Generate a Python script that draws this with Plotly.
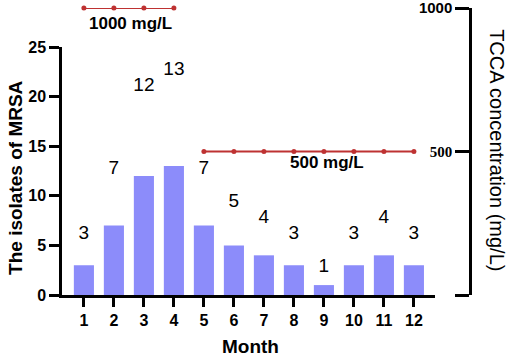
import plotly.graph_objects as go

months = [1, 2, 3, 4, 5, 6, 7, 8, 9, 10, 11, 12]
isolates = [3, 7, 12, 13, 7, 5, 4, 3, 1, 3, 4, 3]
month_ticks = [str(m) for m in months]

tcca_high_months = [1, 2, 3, 4]
tcca_high = [1000, 1000, 1000, 1000]
tcca_low_months = [5, 6, 7, 8, 9, 10, 11, 12]
tcca_low = [500, 500, 500, 500, 500, 500, 500, 500]

left_ticks = [0, 5, 10, 15, 20, 25]
right_ticks = [0, 500, 1000]
right_ticktext = ["", '<span style="font-family:Liberation Serif">500</span>',
                  '<span style="font-family:Liberation Sans">1000</span>']

BAR = "rgb(140,140,250)"
RED = "rgb(190,50,50)"
AX = dict(showline=True, linecolor="black", linewidth=2.5, ticks="outside", automargin=False,
          tickcolor="black", tickwidth=2.5, showgrid=False, zeroline=False)

fig = go.Figure()
fig.add_trace(go.Bar(x=months, y=isolates, width=0.67, marker=dict(color=BAR, line=dict(width=0)),
                     xaxis="x", yaxis="y", showlegend=False))
fig.add_trace(go.Scatter(x=months, y=isolates, text=[str(v) for v in isolates], mode="text",
                         textposition="middle center", textfont=dict(family="Arial", size=19, color="black"),
                         xaxis="x", yaxis="y3", showlegend=False, cliponaxis=False))
for xs, ys in [(tcca_high_months, tcca_high), (tcca_low_months, tcca_low)]:
    fig.add_trace(go.Scatter(x=xs, y=ys, mode="lines+markers", line=dict(color=RED, width=2),
                             marker=dict(color=RED, size=5), xaxis="x", yaxis="y2",
                             showlegend=False, cliponaxis=False))

fig.update_layout(
    width=510, height=359,
    margin=dict(l=62, r=40, t=8, b=64),
    paper_bgcolor="white", plot_bgcolor="rgba(0,0,0,0)",
    font=dict(family="Arial", color="black"),
    xaxis=dict(domain=[0, 0.914], range=[0.27, 12.7], tickvals=months, ticktext=month_ticks,
               ticklen=9, tickfont=dict(family="Arial", size=16, weight="bold"), **AX),
    yaxis=dict(domain=[0, 0.864], range=[0, 25], tickvals=left_ticks, ticklen=10,
               tickfont=dict(family="Arial", size=16, weight="bold"), **AX),
    yaxis2=dict(domain=[0, 1], range=[0, 1000], anchor="free", position=1.0, side="left",
                tickvals=right_ticks, ticktext=right_ticktext, ticklen=14, ticklabeloverflow="allow",
                tickfont=dict(family="Arial", size=15, weight="bold"), **AX),
    yaxis3=dict(overlaying="y", range=[-0.669, 14.41], visible=False),
)

def font(size):
    return dict(family="Arial", size=size, color="black")

ann = dict(showarrow=False, xref="paper", yref="paper", xanchor="center", yanchor="middle")
fig.add_annotation(text="<b>The isolates of MRSA</b>", x=-0.1127, y=0.408, textangle=-90,
                   font=font(19), **ann)
fig.add_annotation(text="TCCA concentration (mg/L)", x=1.066, y=0.505, textangle=90,
                   font=font(20), **ann)
fig.add_annotation(text="<b>Month</b>", x=0.463, y=-0.181, font=font(19), **ann)
fig.add_annotation(text="<b>1000 mg/L</b>", x=(130 - 62) / 408, y=(295 - 24) / 287,
                   font=font(17), **ann)
fig.add_annotation(text="<b>500 mg/L</b>", x=(327 - 62) / 408, y=(295 - 162) / 287,
                   font=font(17), **ann)

fig.write_html("out.html", config={"displayModeBar": False},
               post_script="document.body.style.margin='0';document.body.style.padding='0';")
